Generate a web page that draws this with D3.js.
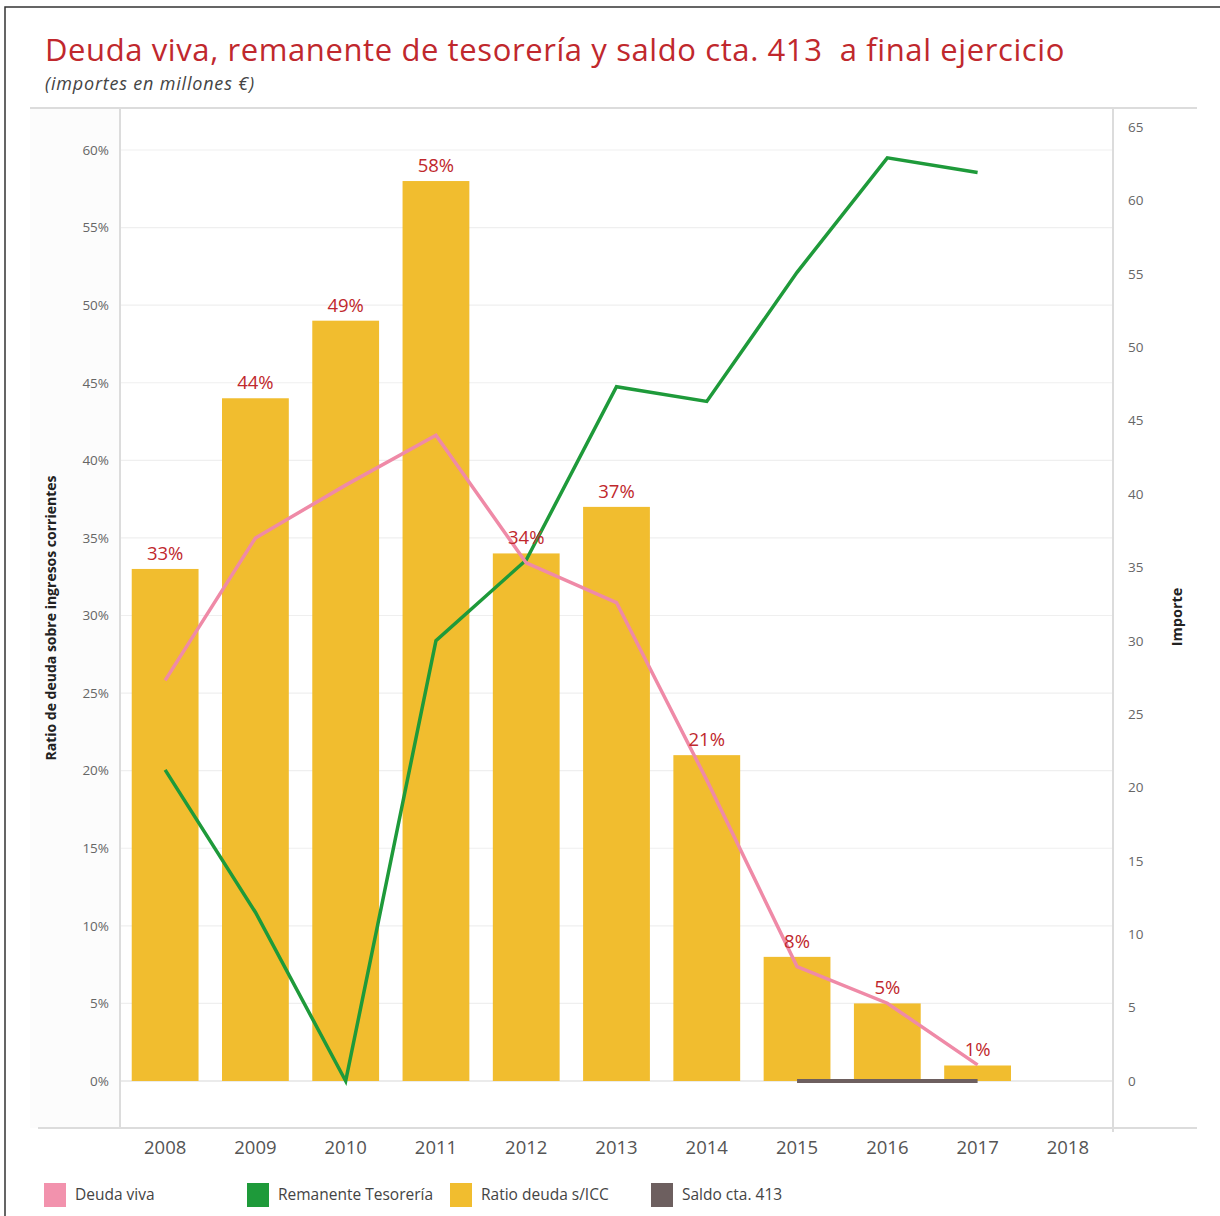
<!DOCTYPE html>
<html>
<head>
<meta charset="utf-8">
<script src="https://cdn.jsdelivr.net/npm/d3@7"></script>
<style>
  body { margin: 0; background: #fff; }
  text { font-family: "Open Sans", "Noto Sans", sans-serif; }
</style>
</head>
<body>
<div id="chart"></div>
<script>
// data
const years = ["2008", "2009", "2010", "2011", "2012", "2013", "2014", "2015", "2016", "2017", "2018"];
const ratioDeuda = [33, 44, 49, 58, 34, 37, 21, 8, 5, 1, null];          // % bars
const deudaViva = [27.3, 37.0, 40.6, 44.0, 35.3, 32.6, 20.5, 7.8, 5.3, 1.1, null];
const remanente = [21.2, 11.5, 0, 30.0, 35.5, 47.3, 46.3, 55.1, 62.9, 61.9, null];
const saldo413 = [null, null, null, null, null, null, null, 0, 0, 0, null];
const leftTicks = [0, 5, 10, 15, 20, 25, 30, 35, 40, 45, 50, 55, 60];
const rightTicks = [0, 5, 10, 15, 20, 25, 30, 35, 40, 45, 50, 55, 60, 65];

const width = 1220, height = 1216;
const plotTop = 108, plotBottom = 1128, plotLeft = 120, plotRight = 1113;

const svg = d3.select("#chart").append("svg")
  .attr("width", width)
  .attr("height", height);

// outer frame
svg.append("rect")
  .attr("x", 5).attr("y", 7)
  .attr("width", width - 3).attr("height", height + 10)
  .attr("fill", "none").attr("stroke", "#333").attr("stroke-width", 1.5);

// title
svg.append("text")
  .attr("x", 45).attr("y", 61)
  .attr("fill", "#c0282d")
  .style("font-size", "31px")
  .style("letter-spacing", "0.6px")
  .style("white-space", "pre")
  .text("Deuda viva, remanente de tesorería y saldo cta. 413  a final ejercicio");

svg.append("text")
  .attr("x", 45).attr("y", 90)
  .attr("fill", "#444")
  .style("font-size", "18px")
  .style("letter-spacing", "0.8px")
  .style("font-style", "italic")
  .text("(importes en millones €)");

const x = d3.scaleBand()
  .domain(years)
  .range([plotLeft, plotRight])
  .paddingInner(0.26)
  .paddingOuter(0.13);

const yL = d3.scaleLinear().domain([0, 60]).range([1081, 150]);
const yR = d3.scaleLinear().domain([0, 65]).range([1081, 127]);

// light left-axis background
svg.append("rect")
  .attr("x", 30).attr("y", plotTop)
  .attr("width", plotLeft - 30).attr("height", plotBottom - plotTop)
  .attr("fill", "#fcfcfc");

// gridlines
svg.append("g")
  .selectAll("line")
  .data(leftTicks)
  .enter()
  .append("line")
  .attr("x1", plotLeft).attr("x2", plotRight)
  .attr("y1", d => yL(d)).attr("y2", d => yL(d))
  .attr("stroke", d => d === 0 ? "#d8d8d8" : "#efefef")
  .attr("stroke-width", 1.2);

// frame lines
const frame = svg.append("g").attr("stroke", "#dcdcdc").attr("stroke-width", 2);
frame.append("line").attr("x1", 30).attr("x2", 1197).attr("y1", plotTop).attr("y2", plotTop);
frame.append("line").attr("x1", 38).attr("x2", 1197).attr("y1", plotBottom).attr("y2", plotBottom);
frame.append("line").attr("x1", plotLeft).attr("x2", plotLeft).attr("y1", plotTop).attr("y2", plotBottom);
frame.append("line").attr("x1", plotRight).attr("x2", plotRight).attr("y1", plotTop).attr("y2", plotBottom + 4);

// left axis
const axisL = svg.append("g")
  .attr("transform", `translate(${plotLeft - 11},0)`)
  .call(d3.axisLeft(yL).tickValues(leftTicks).tickFormat(d => d + "%").tickSize(0).tickPadding(0));
axisL.select(".domain").remove();
axisL.selectAll("text").attr("fill", "#666").style("font-size", "13.5px");

// right axis
const axisR = svg.append("g")
  .attr("transform", `translate(${plotRight + 15},0)`)
  .call(d3.axisRight(yR).tickValues(rightTicks).tickSize(0).tickPadding(0));
axisR.select(".domain").remove();
axisR.selectAll("text").attr("fill", "#666").style("font-size", "13.5px");

// x axis
const axisX = svg.append("g")
  .attr("transform", `translate(0,${plotBottom})`)
  .call(d3.axisBottom(x).tickSize(0).tickPadding(13));
axisX.select(".domain").remove();
axisX.selectAll("text").attr("fill", "#555").style("font-size", "18.5px");

// axis titles
svg.append("text")
  .attr("transform", "translate(56,618) rotate(-90)")
  .attr("text-anchor", "middle")
  .attr("fill", "#222")
  .style("font-size", "14px")
  .style("font-weight", "bold")
  .text("Ratio de deuda sobre ingresos corrientes");

svg.append("text")
  .attr("transform", "translate(1182,617) rotate(-90)")
  .attr("text-anchor", "middle")
  .attr("fill", "#222")
  .style("font-size", "14.5px")
  .style("font-weight", "bold")
  .text("Importe");

// bars
const barData = years.map((yr, i) => ({ year: yr, value: ratioDeuda[i] })).filter(d => d.value != null);

svg.append("g")
  .selectAll("rect")
  .data(barData)
  .enter()
  .append("rect")
  .attr("x", d => x(d.year))
  .attr("y", d => yL(d.value))
  .attr("width", x.bandwidth())
  .attr("height", d => yL(0) - yL(d.value))
  .attr("fill", "#f1bd2f");

// lines
const line = d3.line()
  .defined(d => d.value != null)
  .x(d => x(d.year) + x.bandwidth() / 2)
  .y(d => yR(d.value));

function series(arr) {
  return years.map((yr, i) => ({ year: yr, value: arr[i] }));
}

svg.append("path")
  .datum(series(saldo413))
  .attr("d", line)
  .attr("fill", "none")
  .attr("stroke", "#6d5f5f")
  .attr("stroke-width", 4);

svg.append("path")
  .datum(series(remanente))
  .attr("d", line)
  .attr("fill", "none")
  .attr("stroke", "#1e9a3a")
  .attr("stroke-width", 3.5);

svg.append("path")
  .datum(series(deudaViva))
  .attr("d", line)
  .attr("fill", "none")
  .attr("stroke", "#ef8aa7")
  .attr("stroke-width", 3.5);

// bar labels
svg.append("g")
  .selectAll("text")
  .data(barData)
  .enter()
  .append("text")
  .attr("x", d => x(d.year) + x.bandwidth() / 2)
  .attr("y", d => yL(d.value) - 9)
  .attr("text-anchor", "middle")
  .attr("fill", "#c0282d")
  .style("font-size", "18.5px")
  .text(d => d.value + "%");

// legend
const legendItems = [
  { label: "Deuda viva", color: "#f292ad", x: 44 },
  { label: "Remanente Tesorería", color: "#1e9a3a", x: 247 },
  { label: "Ratio deuda s/ICC", color: "#f1bd2f", x: 450 },
  { label: "Saldo cta. 413", color: "#6d5f5f", x: 651 }
];

const legend = svg.append("g")
  .selectAll("g")
  .data(legendItems)
  .enter()
  .append("g")
  .attr("transform", d => `translate(${d.x},1183)`);

legend.append("rect")
  .attr("width", 22).attr("height", 24)
  .attr("fill", d => d.color);

legend.append("text")
  .attr("x", 31).attr("y", 17)
  .attr("fill", "#444")
  .style("font-size", "15.5px")
  .text(d => d.label);
</script>
</body>
</html>
